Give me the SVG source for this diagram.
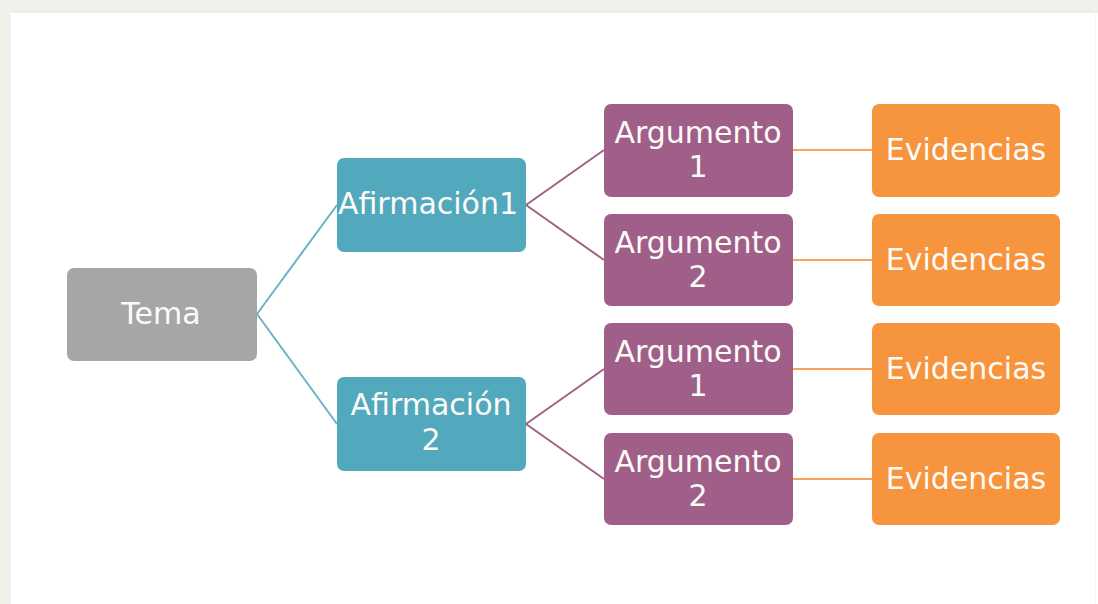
<svg xmlns="http://www.w3.org/2000/svg" width="1098" height="604" viewBox="0 0 1098 604">
<style>
.bx{rx:7px}
.t{font-family:"DejaVu Sans","Verdana",sans-serif;font-size:30px;fill:#fdfbf7;text-anchor:middle}
.tema{fill:#a6a6a6}
.afi{fill:#52a8bd}
.arg{fill:#a05f88}
.evi{fill:#f7953f}
.c1{stroke:#6bb3c4;stroke-width:2;fill:none}
.c2{stroke:#9e6384;stroke-width:2;fill:none}
.c3{stroke:#f5a45e;stroke-width:2;fill:none}
</style>
<rect x="0" y="0" width="1098" height="604" fill="#f2f0eb"/>
<rect x="11" y="12" width="1087" height="592" fill="#ffffff"/>
<line x1="11" y1="12" x2="1098" y2="12" stroke="#e6e3dd" stroke-width="1"/>
<line x1="1095.5" y1="12" x2="1095.5" y2="604" stroke="#f4f4f4" stroke-width="1"/>
<g id="connectors">
<line class="c1" x1="257" y1="314" x2="337" y2="205"/>
<line class="c1" x1="257" y1="314" x2="337" y2="424"/>
<line class="c2" x1="526" y1="205" x2="604" y2="150"/>
<line class="c2" x1="526" y1="205" x2="604" y2="260"/>
<line class="c2" x1="526" y1="424" x2="604" y2="369"/>
<line class="c2" x1="526" y1="424" x2="604" y2="479"/>
<line class="c3" x1="793" y1="150" x2="872" y2="150"/>
<line class="c3" x1="793" y1="260" x2="872" y2="260"/>
<line class="c3" x1="793" y1="369" x2="872" y2="369"/>
<line class="c3" x1="793" y1="479" x2="872" y2="479"/>
</g>
<g id="tema"><rect class="bx tema" x="67" y="268" width="190" height="93"/><text class="t" x="161" y="324">Tema</text></g>
<g id="afirmacion1"><rect class="bx afi" x="337" y="158" width="189" height="94"/><text class="t" x="428" y="214">Afirmación1</text></g>
<g id="afirmacion2"><rect class="bx afi" x="337" y="377" width="189" height="94"/><text class="t" x="431" y="415">Afirmación</text><text class="t" x="431" y="450">2</text></g>
<g id="argumento1a"><rect class="bx arg" x="604" y="104" width="189" height="93"/><text class="t" x="698" y="143">Argumento</text><text class="t" x="698" y="177">1</text></g>
<g id="argumento2a"><rect class="bx arg" x="604" y="214" width="189" height="92"/><text class="t" x="698" y="253">Argumento</text><text class="t" x="698" y="287">2</text></g>
<g id="argumento1b"><rect class="bx arg" x="604" y="323" width="189" height="92"/><text class="t" x="698" y="362">Argumento</text><text class="t" x="698" y="396">1</text></g>
<g id="argumento2b"><rect class="bx arg" x="604" y="433" width="189" height="92"/><text class="t" x="698" y="472">Argumento</text><text class="t" x="698" y="506">2</text></g>
<g id="evidencias1"><rect class="bx evi" x="872" y="104" width="188" height="93"/><text class="t" x="966" y="160">Evidencias</text></g>
<g id="evidencias2"><rect class="bx evi" x="872" y="214" width="188" height="92"/><text class="t" x="966" y="270">Evidencias</text></g>
<g id="evidencias3"><rect class="bx evi" x="872" y="323" width="188" height="92"/><text class="t" x="966" y="379">Evidencias</text></g>
<g id="evidencias4"><rect class="bx evi" x="872" y="433" width="188" height="92"/><text class="t" x="966" y="489">Evidencias</text></g>
</svg>
